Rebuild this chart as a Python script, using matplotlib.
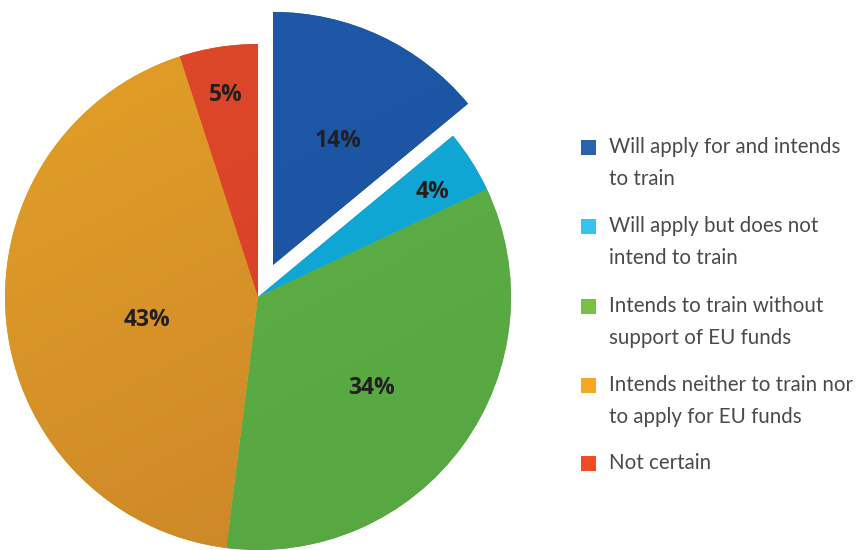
import numpy as np
import matplotlib
matplotlib.use("Agg")
import matplotlib.pyplot as plt
from matplotlib.patches import Rectangle
from matplotlib.colors import LinearSegmentedColormap
from matplotlib.transforms import offset_copy

# Survey answers (percent of respondents)
categories = [
    "Will apply for and intends\nto train",
    "Will apply but does not\nintend to train",
    "Intends to train without\nsupport of EU funds",
    "Intends neither to train nor\nto apply for EU funds",
    "Not certain",
]
values = [14, 4, 34, 43, 5]

# Slice fills (light end, dark end of a soft diagonal shading) and legend swatches
slice_shades = [
    ("#1f5aa8", "#1a52a0"),
    ("#14aad8", "#0fa4d2"),
    ("#61b247", "#58a842"),
    ("#e6a526", "#cd8729"),
    ("#e04b28", "#d63e29"),
]
swatch_colors = ["#2b62ae", "#34c4f1", "#79c143", "#f7a823", "#ef4b26"]
explode = [0.14, 0, 0, 0, 0]
label_radius = [0.56, 0.81, 0.572, 0.448, 0.815]
label_turn = [-2, -1, -2, 5.5, 0]  # degrees, counter-clockwise nudge of each label

W, H = 860, 550
fig = plt.figure(figsize=(W / 100, H / 100), dpi=100)
ax = fig.add_axes([0, 0, 1, 1])

cx, cy, R = 258, 297, 253  # pie centre and radius in pixels (from top-left)

wedges, _ = ax.pie(values, startangle=90, counterclock=False, explode=explode,
                   colors=[s[0] for s in slice_shades], radius=1, center=(0, 0),
                   wedgeprops=dict(linewidth=0))
ax.set_aspect("equal")
ax.axis("off")

# Diagonal shading clipped to each wedge
gx, gy = np.meshgrid(np.linspace(-1.3, 1.3, 300), np.linspace(-1.3, 1.3, 300))
grad = np.clip(((gx - gy) / 2.6 + 1) / 2 * 0.9 + (0.5 - gy / 2.6) * 0.4, 0, 1)
for w, (c0, c1) in zip(wedges, slice_shades):
    cmap = LinearSegmentedColormap.from_list("shade", [c0, c1])
    im = ax.imshow(grad, extent=(-1.3, 1.3, -1.3, 1.3), origin="lower",
                   cmap=cmap, vmin=0, vmax=1, interpolation="bilinear", zorder=2)
    im.set_clip_path(w)
ax.set_xlim(-cx / R, (W - cx) / R)
ax.set_ylim(-(H - cy) / R, cy / R)

# Percentage labels (nudged down slightly so the glyphs, not the line box, are centred)
label_tr = offset_copy(ax.transData, fig=fig, x=0, y=-1.2, units="points")
total = sum(values)
start = 90.0
for v, ex, lr, turn in zip(values, explode, label_radius, label_turn):
    span = 360.0 * v / total
    mid = np.deg2rad(start - span / 2)
    ox, oy = ex * np.cos(mid), ex * np.sin(mid)
    lab_ang = mid + np.deg2rad(turn)
    ax.text(ox + lr * np.cos(lab_ang), oy + lr * np.sin(lab_ang), f"{v}%",
            ha="center", va="center", fontsize=16.5, fontweight="bold",
            family="Open Sans", color="#231f20", zorder=5, transform=label_tr)
    start -= span

# Legend built from swatches and text lines
first_line_y = [147, 226, 306, 385, 463]
line_gap = 32
for lab, col, y0 in zip(categories, swatch_colors, first_line_y):
    fig.add_artist(Rectangle((581 / W, 1 - (y0 + 7.5) / H), 15 / W, 15 / H,
                             transform=fig.transFigure, facecolor=col,
                             edgecolor="none"))
    for i, line in enumerate(lab.split("\n")):
        fig.text(609 / W, 1 - (y0 + i * line_gap) / H, line, ha="left",
                 va="center", fontsize=14.8, family="Lato",
                 color="#4a4a4a")

fig.savefig("out.png", dpi=100, facecolor="white")
